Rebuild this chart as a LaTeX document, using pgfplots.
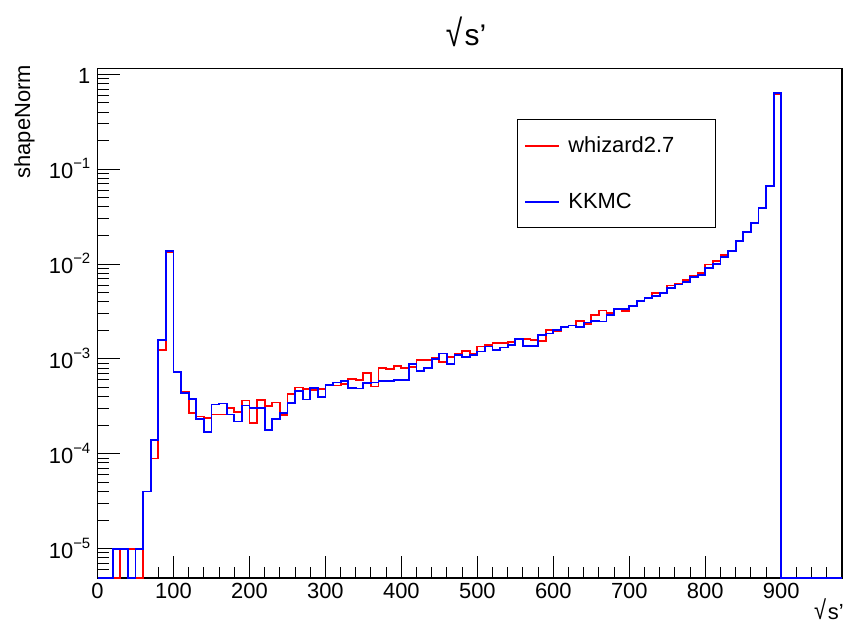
\documentclass[border=0pt]{standalone}
\usepackage{fontspec}
\setmainfont{Liberation Sans}
\usepackage{pgfplots}
\pgfplotsset{compat=1.18}
\definecolor{histred}{RGB}{255,0,0}
\definecolor{histblue}{RGB}{0,0,255}
\newcommand{\lab}{\fontsize{22}{24}\selectfont}
\newcommand{\pw}[1]{10\raisebox{10bp}{\fontsize{15}{15}\selectfont −#1}}
\newcommand{\sqrts}[1]{\raisebox{-0.02em}{\scalebox{1}[#1]{√}}\hspace{0.08em}s’}

\begin{document}
\begin{tikzpicture}
\path[use as bounding box] (0bp,0bp) rectangle (846bp,627bp);
\begin{axis}[
  at={(97.5bp,49bp)}, anchor=south west,
  scale only axis, width=744.5bp, height=509.4bp,
  xmin=0, xmax=980, ymode=log, ymin=4.9e-6, ymax=1.15,
  clip=false,
  axis line style={line width=1.1bp},
  tick pos=left, tick align=inside,
  major tick length=22bp, minor tick length=11bp,
  tick style={black, line width=1bp},
  xtick={0,100,...,900},
  xticklabels={0,100,200,300,400,500,600,700,800,900},
  minor xtick={0,20,...,980},
  ytick={1e-5,1e-4,1e-3,1e-2,1e-1,1},
  yticklabels={\pw{5},\pw{4},\pw{3},\pw{2},\pw{1},1},
  minor ytick={5e-6,6e-6,7e-6,8e-6,9e-6,
    2e-5,3e-5,4e-5,5e-5,6e-5,7e-5,8e-5,9e-5,
    2e-4,3e-4,4e-4,5e-4,6e-4,7e-4,8e-4,9e-4,
    2e-3,3e-3,4e-3,5e-3,6e-3,7e-3,8e-3,9e-3,
    2e-2,3e-2,4e-2,5e-2,6e-2,7e-2,8e-2,9e-2,
    0.2,0.3,0.4,0.5,0.6,0.7,0.8,0.9},
  xticklabel style={font=\lab, inner sep=0pt, anchor=north, yshift=-5bp},
  yticklabel style={font=\lab, inner sep=0pt, anchor=base east, xshift=-7bp, yshift=-9.5bp},
  legend cell align=left,
  legend style={at={(rel axis cs:0.5635,0.901)}, anchor=north west,
    draw=black, line width=1.1bp, fill=white,
    inner xsep=7bp, inner ysep=17.5bp, row sep=39bp, font=\lab,
    nodes={inner sep=0pt},
    /tikz/every odd column/.append style={column sep=8bp}},
  legend image code/.code={\draw[#1] (0bp,0bp) -- (34bp,0bp);},
]
% whizard2.7: bins of width 10, left edges
\addplot[const plot mark left, draw=histred, line width=1.8bp] coordinates {
(0,4.9e-6) (10,4.9e-6) (20,4.9e-6) (30,1e-5) (40,1e-5) (50,4.9e-6)
(60,4.0e-5) (70,8.9e-5) (80,1.24e-3) (90,1.35e-2) (100,7.3e-4)
(110,4.54e-4) (120,2.70e-4) (130,2.47e-4) (140,2.40e-4) (150,2.60e-4)
(160,2.60e-4) (170,3.06e-4) (180,2.78e-4) (190,3.65e-4) (200,2.11e-4)
(210,3.66e-4) (220,3.20e-4) (230,3.47e-4) (240,2.55e-4) (250,4.30e-4)
(260,5.00e-4) (270,4.80e-4) (280,4.73e-4) (290,4.80e-4) (300,5.25e-4)
(310,5.25e-4) (320,5.45e-4) (330,6.20e-4) (340,6.00e-4) (350,7.15e-4)
(360,5.13e-4) (370,7.95e-4) (380,7.90e-4) (390,8.40e-4) (400,8.00e-4)
(410,8.15e-4) (420,9.75e-4) (430,9.75e-4) (440,1.02e-3) (450,9.25e-4)
(460,1.05e-3) (470,1.13e-3) (480,1.22e-3) (490,1.13e-3) (500,1.35e-3)
(510,1.39e-3) (520,1.47e-3) (530,1.48e-3) (540,1.52e-3) (550,1.62e-3)
(560,1.62e-3) (570,1.59e-3) (580,1.55e-3) (590,2.00e-3) (600,1.95e-3)
(610,2.15e-3) (620,2.25e-3) (630,2.52e-3) (640,2.35e-3) (650,2.92e-3)
(660,3.24e-3) (670,3.04e-3) (680,3.38e-3) (690,3.20e-3) (700,3.60e-3)
(710,4.10e-3) (720,4.35e-3) (730,4.95e-3) (740,4.97e-3) (750,5.95e-3)
(760,6.25e-3) (770,6.75e-3) (780,7.55e-3) (790,8.10e-3) (800,9.90e-3)
(810,1.08e-2) (820,1.25e-2) (830,1.38e-2) (840,1.77e-2) (850,2.16e-2)
(860,2.70e-2) (870,3.90e-2) (880,6.60e-2) (890,0.625) (900,4.9e-6)
(980,4.9e-6)};
\addlegendentry{whizard2.7\hspace*{34bp}}
% KKMC
\addplot[const plot mark left, draw=histblue, line width=1.8bp] coordinates {
(0,4.9e-6) (10,4.9e-6) (20,1e-5) (30,1e-5) (40,4.9e-6) (50,1e-5)
(60,4.0e-5) (70,1.39e-4) (80,1.57e-3) (90,1.37e-2) (100,7.3e-4)
(110,4.40e-4) (120,3.80e-4) (130,2.31e-4) (140,1.70e-4) (150,3.30e-4)
(160,3.39e-4) (170,2.59e-4) (180,2.19e-4) (190,3.23e-4) (200,3.03e-4)
(210,3.05e-4) (220,1.79e-4) (230,2.31e-4) (240,2.69e-4) (250,3.40e-4)
(260,4.58e-4) (270,3.73e-4) (280,4.95e-4) (290,4.00e-4) (300,5.35e-4)
(310,5.65e-4) (320,5.85e-4) (330,4.95e-4) (340,4.87e-4) (350,5.56e-4)
(360,5.65e-4) (370,5.85e-4) (380,5.85e-4) (390,6.00e-4) (400,6.00e-4)
(410,8.80e-4) (420,7.40e-4) (430,8.00e-4) (440,1.00e-3) (450,1.14e-3)
(460,8.90e-4) (470,1.09e-3) (480,1.05e-3) (490,1.11e-3) (500,1.20e-3)
(510,1.35e-3) (520,1.25e-3) (530,1.32e-3) (540,1.41e-3) (550,1.62e-3)
(560,1.37e-3) (570,1.37e-3) (580,1.80e-3) (590,1.85e-3) (600,2.00e-3)
(610,2.15e-3) (620,2.25e-3) (630,2.15e-3) (640,2.42e-3) (650,2.52e-3)
(660,2.48e-3) (670,2.92e-3) (680,3.38e-3) (690,3.38e-3) (700,3.60e-3)
(710,4.10e-3) (720,4.35e-3) (730,4.60e-3) (740,4.94e-3) (750,5.60e-3)
(760,6.10e-3) (770,6.50e-3) (780,7.25e-3) (790,7.70e-3) (800,9.10e-3)
(810,1.01e-2) (820,1.19e-2) (830,1.36e-2) (840,1.75e-2) (850,2.18e-2)
(860,2.70e-2) (870,3.90e-2) (880,6.60e-2) (890,0.630) (900,4.9e-6)
(980,4.9e-6)};
\addlegendentry{KKMC}
\end{axis}
% title and axis titles
\node[font=\fontsize{30}{32}\selectfont, anchor=base, inner sep=0pt] at (466bp,581bp) {\sqrts{1.25}};
\node[font=\lab, rotate=90, anchor=base east, inner sep=0pt] at (30bp,562bp) {shapeNorm};
\node[font=\lab, anchor=base east, inner sep=0pt] at (844bp,8bp) {\sqrts{1.2}};
\end{tikzpicture}
\end{document}
